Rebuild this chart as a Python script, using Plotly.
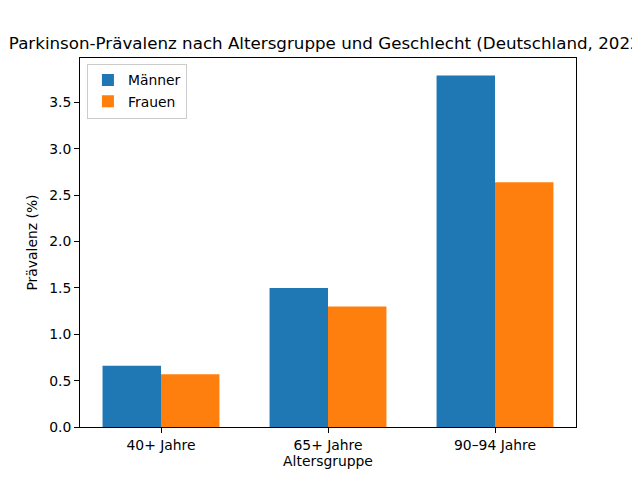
import plotly.graph_objects as go

categories = ["40+ Jahre", "65+ Jahre", "90–94 Jahre"]
maenner = [0.66, 1.50, 3.79]
frauen = [0.57, 1.30, 2.64]
series_names = ["Männer", "Frauen"]
title = "Parkinson-Prävalenz nach Altersgruppe und Geschlecht (Deutschland, 2022)"

xpos = list(range(len(categories)))
w = 0.35

fig = go.Figure()
fig.add_trace(go.Bar(x=[p - w / 2 for p in xpos], y=maenner, width=w, name=series_names[0],
                     marker=dict(color="#1f77b4", line=dict(width=0))))
fig.add_trace(go.Bar(x=[p + w / 2 for p in xpos], y=frauen, width=w, name=series_names[1],
                     marker=dict(color="#ff7f0e", line=dict(width=0))))

font = "DejaVu Sans"
fs = 13.9
W, H = 632, 472
fig.update_layout(
    width=W, height=H,
    margin=dict(l=72, r=64, t=50, b=53),
    paper_bgcolor="white", plot_bgcolor="white",
    font=dict(family=font, size=fs, color="black"),
    barmode="overlay",
    showlegend=True,
    title=dict(text=title, x=320 / W, xanchor="center", y=1 - 35 / H, yanchor="middle",
               font=dict(size=16.7, family=font, color="black")),
    legend=dict(x=0.014, y=0.985, xanchor="left", yanchor="top",
                bordercolor="#cccccc", borderwidth=1, bgcolor="rgba(255,255,255,0.8)",
                font=dict(size=fs, family=font), itemsizing="constant", tracegroupgap=0),
    xaxis=dict(range=[-0.485, 2.485], tickmode="array", tickvals=xpos, ticktext=categories,
               showgrid=False, zeroline=False, showline=True, linecolor="black", linewidth=1,
               mirror=True, ticks="outside", ticklen=5, tickcolor="black",
               tickfont=dict(size=fs),
               title=dict(text="Altersgruppe", standoff=4, font=dict(size=fs))),
    yaxis=dict(range=[0, 3.98], tickmode="array", tickvals=[0, 0.5, 1, 1.5, 2, 2.5, 3, 3.5],
               ticktext=["0.0", "0.5", "1.0", "1.5", "2.0", "2.5", "3.0", "3.5"],
               showgrid=False, zeroline=False, showline=True, linecolor="black", linewidth=1,
               mirror=True, ticks="outside", ticklen=5, tickcolor="black",
               tickfont=dict(size=fs),
               title=dict(text="Prävalenz (%)", standoff=8, font=dict(size=fs))),
)

fig.write_html("out.html")
